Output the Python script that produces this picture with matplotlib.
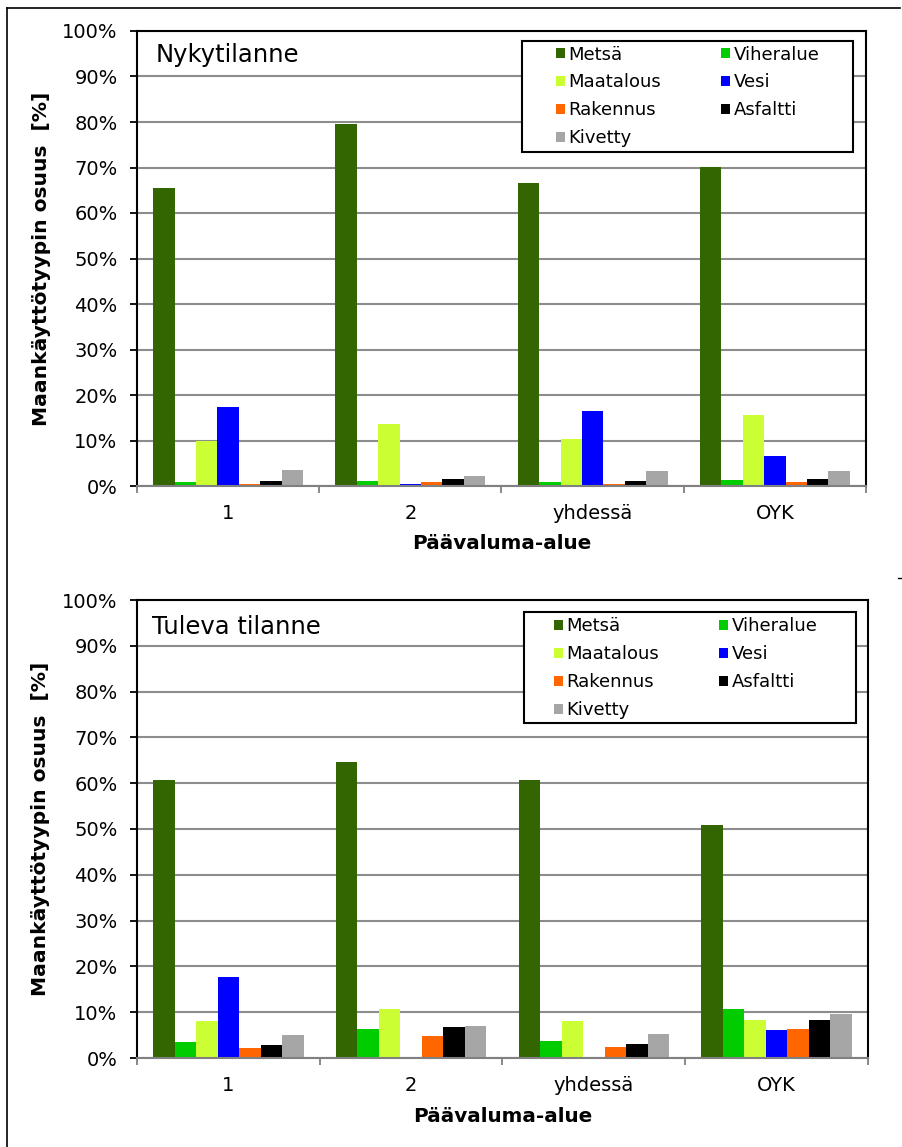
import numpy as np
import matplotlib.pyplot as plt
from matplotlib.patches import Rectangle
from matplotlib.lines import Line2D

categories = ['1', '2', 'yhdessä', 'OYK']
series = ['Metsä', 'Viheralue', 'Maatalous', 'Vesi', 'Rakennus', 'Asfaltti', 'Kivetty']
colors = ['#336600', '#00cc00', '#ccff33', '#0000ff', '#ff6600', '#000000', '#a6a6a6']

# Nykytilanne [%]
now_metsa = [65.5, 79.5, 66.5, 70.2]
now_viher = [0.8, 1.0, 0.8, 1.3]
now_maatalous = [10.0, 13.6, 10.4, 15.5]
now_vesi = [17.4, 0.5, 16.4, 6.6]
now_rakennus = [0.5, 0.8, 0.5, 0.8]
now_asfaltti = [1.0, 1.6, 1.0, 1.5]
now_kivetty = [3.6, 2.2, 3.4, 3.4]

# Tuleva tilanne [%]
fut_metsa = [60.6, 64.7, 60.8, 50.9]
fut_viher = [3.6, 6.3, 3.8, 10.8]
fut_maatalous = [8.0, 10.7, 8.0, 8.2]
fut_vesi = [17.6, 0.0, 0.0, 6.1]
fut_rakennus = [2.1, 4.7, 2.3, 6.3]
fut_asfaltti = [2.9, 6.7, 3.1, 8.2]
fut_kivetty = [5.0, 6.9, 5.2, 9.5]

W, H = 903, 1147
fig = plt.figure(figsize=(W / 100, H / 100), dpi=100)


def panel(rect, vals, title, title_xy, box, anchor):
    ax = fig.add_axes(rect)
    x = np.arange(len(categories))
    bw = 0.1175
    for i, (name, v) in enumerate(zip(series, vals)):
        ax.bar(x + (i - 3) * bw, v, bw, color=colors[i], label=name, zorder=2)

    ax.set_xlim(-0.5, 3.5)
    ax.set_ylim(0, 100)
    ax.set_yticks(np.arange(0, 101, 10))
    ax.set_yticklabels([f'{t}%' for t in range(0, 101, 10)])
    ax.set_xticks(x)
    ax.set_xticklabels(categories)
    ax.set_xticks(np.arange(-0.5, 4, 1), minor=True)
    ax.tick_params(axis='y', length=5, width=1.3, color='k', pad=9, labelsize=14)
    ax.tick_params(axis='x', which='major', length=0, pad=13, labelsize=14)
    ax.tick_params(axis='x', which='minor', length=5, width=1.3, color='#808080')

    ax.yaxis.grid(True, color='#8c8c8c', lw=1.5)
    ax.set_axisbelow(True)
    for s in ['top', 'right', 'left']:
        ax.spines[s].set_linewidth(1.5)
        ax.spines[s].set_color('k')
    ax.spines['bottom'].set_color('#808080')
    ax.spines['bottom'].set_linewidth(1.5)

    ax.set_ylabel('Maankäyttötyypin osuus  [%]', fontsize=14.6, fontweight='bold')
    ax.yaxis.set_label_coords(-0.1315, 0.5)
    ax.yaxis.label.set_va('center')
    ax.set_xlabel('Päävaluma-alue', fontsize=14.4, fontweight='bold')
    ax.xaxis.set_label_coords(0.5, -0.127)
    ax.xaxis.label.set_va('center')

    ax.text(title_xy[0], title_xy[1], title, transform=ax.transAxes,
            fontsize=17.5, va='center', ha='left', zorder=6)

    ax.add_patch(Rectangle(box[:2], box[2], box[3], transform=ax.transAxes,
                           facecolor='white', edgecolor='k', lw=1.5, zorder=4))
    h, l = ax.get_legend_handles_labels()
    order = [0, 2, 4, 6, 1, 3, 5]
    leg = ax.legend([h[k] for k in order], [l[k] for k in order], ncol=2,
                    loc='upper left', bbox_to_anchor=anchor, frameon=False,
                    fontsize=13, borderpad=0, borderaxespad=0,
                    handlelength=0.5, handleheight=0.5, handletextpad=0.2,
                    labelspacing=0.55, columnspacing=3.3)
    leg.set_zorder(5)
    return ax


panel([137 / W, 1 - 486 / H, 729 / W, 455 / H],
      [now_metsa, now_viher, now_maatalous, now_vesi, now_rakennus, now_asfaltti, now_kivetty],
      'Nykytilanne', (0.025, 0.947),
      (0.528, 0.734, 0.454, 0.244), (0.5748, 0.968))

panel([137 / W, 1 - 1058 / H, 731 / W, 458 / H],
      [fut_metsa, fut_viher, fut_maatalous, fut_vesi, fut_rakennus, fut_asfaltti, fut_kivetty],
      'Tuleva tilanne', (0.021, 0.941),
      (0.5294, 0.7314, 0.454, 0.2424), (0.5705, 0.962))

# chart area frame lines
fig.add_artist(Line2D([7 / W, 7 / W], [0, 1 - 8 / H], color='k', lw=1.2))
fig.add_artist(Line2D([7 / W, 900 / W], [1 - 8 / H, 1 - 8 / H], color='k', lw=1.2))
fig.add_artist(Line2D([898 / W, 1], [1 - 578 / H, 1 - 578 / H], color='k', lw=1.0))

fig.savefig('out.png', dpi=100)
